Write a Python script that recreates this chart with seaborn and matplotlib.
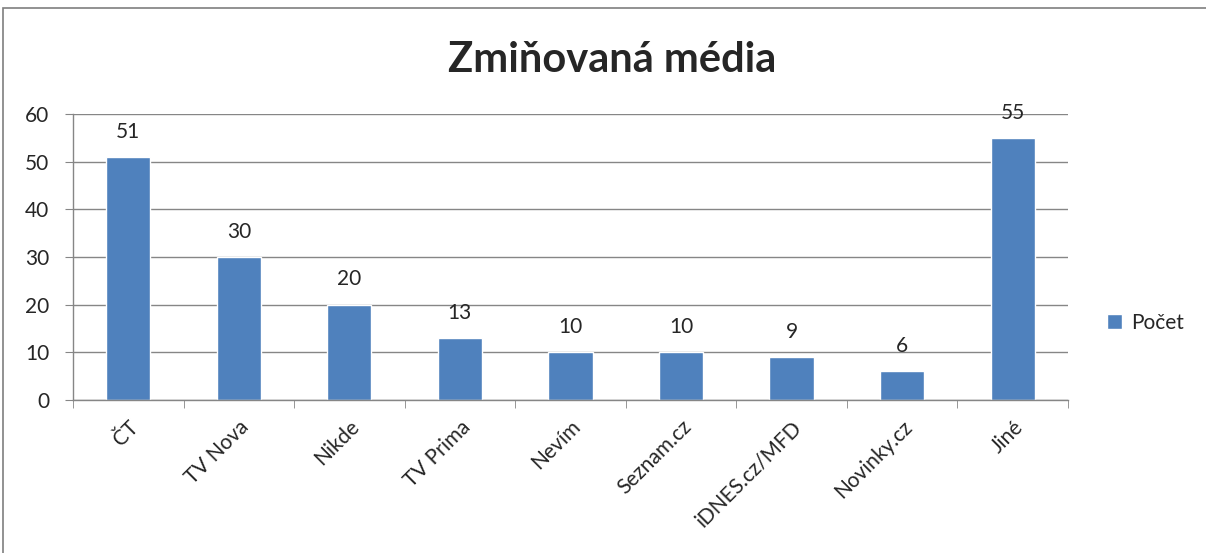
import matplotlib.pyplot as plt
import seaborn as sns
import numpy as np
from matplotlib.patches import Rectangle

# Data
media = ['ČT', 'TV Nova', 'Nikde', 'TV Prima', 'Nevím', 'Seznam.cz',
         'iDNES.cz/MFD', 'Novinky.cz', 'Jiné']
counts = [51, 30, 20, 13, 10, 10, 9, 6, 55]
series_name = 'Počet'

sns.set_style('white')
plt.rcParams['font.family'] = ['Lato', 'DejaVu Sans']

bar_color = '#4F81BD'
grey = '#868686'

fig = plt.figure(figsize=(12.06, 5.53), dpi=100)
ax = fig.add_axes([0.0605, 0.2767, 0.825, 0.5172])

sns.barplot(x=media, y=counts, color=bar_color, width=0.4, ax=ax,
            label=series_name, saturation=1)

ax.set_ylim(0, 60)
ax.set_yticks(np.arange(0, 61, 10))
ax.set_xlim(-0.5, len(media) - 0.5)
ax.grid(axis='y', color=grey, linewidth=1)
ax.set_axisbelow(True)

for side in ['top', 'right']:
    ax.spines[side].set_visible(False)
for side in ['left', 'bottom']:
    ax.spines[side].set_color(grey)
    ax.spines[side].set_linewidth(1)

ax.tick_params(axis='y', length=6, color=grey, labelsize=15, pad=11, left=True)
ax.tick_params(axis='x', which='major', length=0, labelsize=15, pad=12)
ax.set_xticks(np.arange(-0.5, len(media), 1), minor=True)
ax.tick_params(axis='x', which='minor', length=6, color=grey, bottom=True)
plt.setp(ax.get_xticklabels(), rotation=45, ha='right', rotation_mode='anchor')

for i, v in enumerate(counts):
    ax.annotate(str(v), (i, v), xytext=(0, 11), textcoords='offset points',
                ha='center', va='bottom', fontsize=15)

ax.set_xlabel('')
ax.set_ylabel('')

fig.suptitle('Zmiňovaná média', x=0.5075, y=0.925, fontsize=30, fontweight='bold')

leg = ax.legend(loc='center left', bbox_to_anchor=(1.02, 0.27), frameon=False,
                fontsize=15, handlelength=0.75, handleheight=0.75, handletextpad=0.45)

fig.patches.append(Rectangle((3 / 1206, -0.1), 1.2, 1 - 8 / 553 + 0.1,
                             transform=fig.transFigure, fill=False,
                             edgecolor='#7f7f7f', linewidth=1.2))

fig.savefig('out.png', dpi=100)
